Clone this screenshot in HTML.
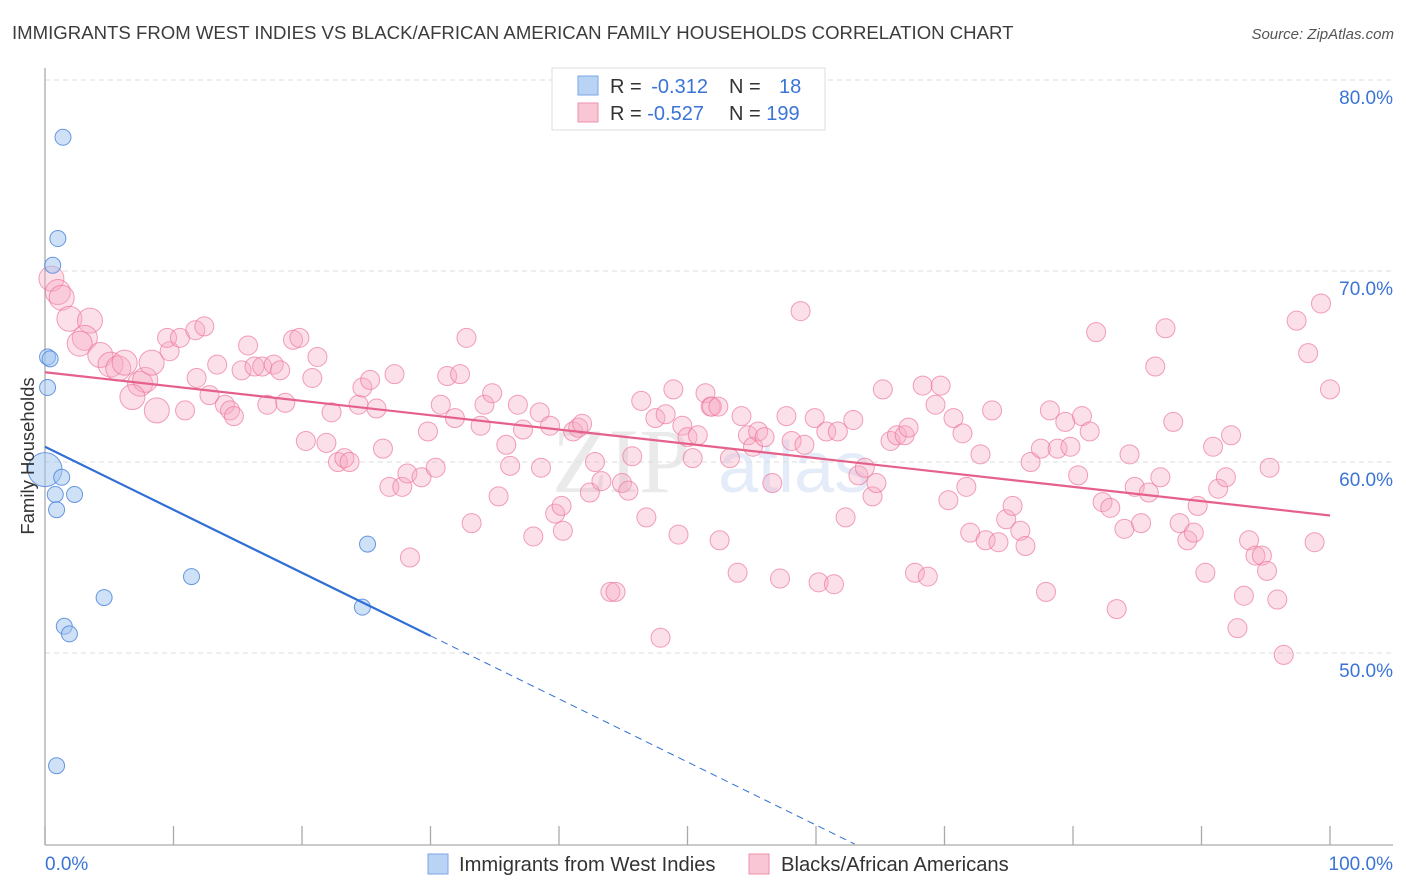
<!DOCTYPE html>
<html><head><meta charset="utf-8"><style>
body{margin:0;background:#fff;width:1406px;height:892px;overflow:hidden;font-family:"Liberation Sans",sans-serif}
svg{display:block}
</style></head><body>
<svg id="chart" width="1406" height="892" viewBox="0 0 1406 892" xmlns="http://www.w3.org/2000/svg">
<text x="12" y="39" font-size="18.6" fill="#3c3c3c" font-family="Liberation Sans, sans-serif">IMMIGRANTS FROM WEST INDIES VS BLACK/AFRICAN AMERICAN FAMILY HOUSEHOLDS CORRELATION CHART</text>
<text x="1394" y="39" font-size="15" fill="#555" text-anchor="end" font-style="italic">Source: ZipAtlas.com</text>
<g opacity="0.13">
<text x="552" y="492" font-size="92" font-family="Liberation Serif, serif" fill="#666">ZIP</text>
<text x="718" y="492" font-size="72" fill="#3b74d6">atlas</text>
</g>
<g id="grid"></g>
<g id="axes"></g>
<g id="pink"></g>
<g id="blue"></g>
<g id="trends"></g>
<text transform="translate(34,456) rotate(-90)" text-anchor="middle" font-size="18.5" fill="#333">Family Households</text>
<text x="45" y="870" font-size="19" fill="#3b74d6">0.0%</text>
<text x="1393" y="870" font-size="19" fill="#3b74d6" text-anchor="end">100.0%</text>
<g>
<rect x="552" y="68" width="273" height="62" fill="#fff" stroke="#ddd"/>
<rect x="578" y="76" width="20" height="19" fill="#b9d3f5" stroke="#7aa6e6"/>
<rect x="578" y="103" width="20" height="19" fill="#f9c6d5" stroke="#ee92ad"/>
<text x="610" y="93" font-size="20" fill="#333">R = <tspan fill="#3b74d6">&#8201;-0.312</tspan></text>
<text x="729" y="93" font-size="20" fill="#333">N = <tspan fill="#3b74d6" x="779">18</tspan></text>
<text x="610" y="120" font-size="20" fill="#333">R = <tspan fill="#3b74d6">-0.527</tspan></text>
<text x="729" y="120" font-size="20" fill="#333">N = <tspan fill="#3b74d6">199</tspan></text>
</g>
<g>
<rect x="428" y="854" width="20" height="20" fill="#b9d3f5" stroke="#7aa6e6"/>
<text x="459" y="871" font-size="20.2" fill="#333">Immigrants from West Indies</text>
</g>
<g>
<rect x="749" y="854" width="20" height="20" fill="#f9c6d5" stroke="#ee92ad"/>
<text x="781" y="871" font-size="20.2" fill="#333">Blacks/African Americans</text>
</g>
</svg>
<script>
const yTicks=[80,70,60,50];
const yTickLabels=["80.0%","70.0%","60.0%","50.0%"];
const xTicks=[0,10,20,30,40,50,60,70,80,90,100];
const blueX=[1.4,1.0,0.6,0.2,0.4,0.2,0,1.3,0.8,2.3,0.9,25.1,11.4,4.6,1.5,1.9,24.7,0.9];
const blueY=[77.0,71.7,70.3,65.5,65.4,63.9,59.6,59.2,58.3,58.3,57.5,55.7,54.0,52.9,51.4,51.0,52.4,44.1];
const blueR=[8,8,8,8,8,8,17,8,8,8,8,8,8,8,8,8,8,8];
const pinkX=[0.5,1.0,1.3,1.9,3.5,3.1,2.7,4.3,5.1,5.7,6.2,7.4,7.8,8.3,6.8,8.7,9.7,9.5,10.5,11.7,12.4,10.9,11.8,12.8,13.4,14.0,14.4,14.7,15.8,15.3,16.3,16.9,17.8,18.3,17.3,18.7,19.3,19.8,20.8,21.2,22.3,20.3,21.9,22.8,23.3,23.7,24.4,24.7,25.3,25.8,26.3,26.8,27.2,27.8,28.2,28.4,29.3,29.8,30.4,31.3,32.3,32.8,33.2,30.8,31.9,33.9,34.2,34.8,35.3,35.9,36.2,36.8,37.2,38.0,38.5,38.6,39.3,39.7,40.2,40.3,41.1,41.5,41.8,42.4,42.8,43.3,44.0,44.4,44.9,45.4,45.7,46.4,46.8,47.5,47.9,48.3,48.9,49.3,49.6,50.0,50.4,50.8,51.4,51.8,51.9,52.4,52.5,53.3,53.9,54.2,54.7,55.1,55.5,56.0,56.6,57.2,57.7,58.1,58.8,59.1,59.9,60.2,60.8,61.4,61.7,62.3,62.9,63.3,63.8,64.4,64.7,65.2,65.8,66.3,66.9,67.2,67.7,68.3,68.7,69.3,69.7,70.3,70.7,71.4,71.7,72.0,72.8,73.2,73.7,74.2,74.8,75.3,75.9,76.3,76.7,77.5,77.9,78.2,78.8,79.4,79.8,80.4,80.7,81.3,81.8,82.3,82.9,83.4,84.0,84.4,84.8,85.3,85.9,86.4,86.8,87.2,87.8,88.3,88.9,89.4,89.7,90.3,90.9,91.3,91.9,92.3,92.8,93.3,93.7,94.2,94.7,95.3,95.1,95.9,96.4,97.4,98.3,98.8,99.3,100];
const pinkY=[69.6,68.9,68.6,67.5,67.4,66.5,66.2,65.6,65.1,64.9,65.2,64.1,64.3,65.2,63.4,62.7,65.8,66.5,66.5,66.9,67.1,62.7,64.4,63.5,65.1,63.0,62.7,62.4,66.1,64.8,65.0,65.0,65.1,64.8,63.0,63.1,66.4,66.5,64.4,65.5,62.6,61.1,61.0,60.0,60.2,60.0,63.0,63.9,64.3,62.8,60.7,58.7,64.6,58.7,59.4,55.0,59.2,61.6,59.7,64.5,64.6,66.5,56.8,63.0,62.3,61.9,63.0,63.6,58.2,60.9,59.8,63.0,61.7,56.1,62.6,59.7,61.9,57.3,57.7,56.4,61.6,61.8,62.0,58.4,60.0,59.0,53.2,53.2,58.9,58.5,60.3,63.2,57.1,62.3,50.8,62.5,63.8,56.2,61.9,61.3,60.2,61.4,63.6,62.9,62.9,62.9,55.9,60.2,54.2,62.4,61.4,60.8,61.6,61.3,58.9,53.9,62.4,61.1,67.9,60.9,62.3,53.7,61.6,53.6,61.6,57.1,62.2,59.3,59.7,58.2,58.9,63.8,61.1,61.4,61.4,61.8,54.2,64.0,54.0,63.0,64.0,58.0,62.3,61.5,58.7,56.3,60.4,55.9,62.7,55.8,57.0,57.7,56.4,55.6,60.0,60.7,53.2,62.7,60.7,62.1,60.8,59.3,62.4,61.6,66.8,57.9,57.6,52.3,56.5,60.4,58.7,56.8,58.4,65.0,59.2,67.0,62.1,56.8,55.9,56.3,57.7,54.2,60.8,58.6,59.2,61.4,51.3,53.0,55.9,55.1,55.1,59.7,54.3,52.8,49.9,67.4,65.7,55.8,68.3,63.8];
const blueTrendX=[0,30,63];
const blueTrendY=[60.8,50.9,40.0];
const pinkTrendX=[0,100];
const pinkTrendY=[64.7,57.2];

const NS="http://www.w3.org/2000/svg";
const X0=45,XS=12.85,Y0=80,YS=19.1;
function sx(v){return X0+v*XS;}
function sy(v){return Y0+(80-v)*YS;}
function mk(tag,attrs,parent){const e=document.createElementNS(NS,tag);for(const k in attrs)e.setAttribute(k,attrs[k]);parent.appendChild(e);return e;}

const grid=document.getElementById('grid');
yTicks.forEach((t,i)=>{
  const l=mk('line',{x1:45,x2:1393,y1:sy(t),y2:sy(t),stroke:'#ddd','stroke-dasharray':'5,4'},grid);
  
  
  const tx=mk('text',{x:1393,y:sy(t)+24,'text-anchor':'end','font-size':19,fill:'#3b74d6'},grid);
  tx.textContent=yTickLabels[i];
  
  
});
const axes=document.getElementById('axes');
mk('line',{x1:45,x2:45,y1:68,y2:845,stroke:'#aaa','stroke-width':1.3},axes);
mk('line',{x1:45,x2:1393,y1:845,y2:845,stroke:'#aaa','stroke-width':1.3},axes);
xTicks.forEach(t=>{
  const l=mk('line',{x1:sx(t),x2:sx(t),y1:826,y2:845,stroke:'#aaa','stroke-width':1.3},axes);
  
  
});

const pink=document.getElementById('pink');
pinkX.forEach((v,i)=>{
  const r=i<16?12.5:9.5;
  const c=mk('circle',{cx:sx(v),cy:sy(pinkY[i]),r:r,fill:'rgba(246,170,195,0.36)',stroke:'rgba(236,120,155,0.7)','stroke-width':1},pink);
  
  
});
const blue=document.getElementById('blue');
blueX.forEach((v,i)=>{
  const c=mk('circle',{cx:sx(v),cy:sy(blueY[i]),r:blueR[i],fill:'rgba(160,195,240,0.5)',stroke:'rgba(80,135,220,0.85)','stroke-width':1},blue);
  
  
});
const tr=document.getElementById('trends');
const bl=mk('line',{x1:sx(blueTrendX[0]),y1:sy(blueTrendY[0]),x2:sx(blueTrendX[1]),y2:sy(blueTrendY[1]),stroke:'#2f6fd6','stroke-width':2.2},tr);


const bd=mk('line',{x1:sx(blueTrendX[1]),y1:sy(blueTrendY[1]),x2:sx(blueTrendX[2]),y2:sy(blueTrendY[2]),stroke:'#2f6fd6','stroke-width':1,'stroke-dasharray':'7,5'},tr);


const pl=mk('line',{x1:sx(pinkTrendX[0]),y1:sy(pinkTrendY[0]),x2:sx(pinkTrendX[1]),y2:sy(pinkTrendY[1]),stroke:'#e5608a','stroke-width':2.2},tr);


</script>
</body></html>
